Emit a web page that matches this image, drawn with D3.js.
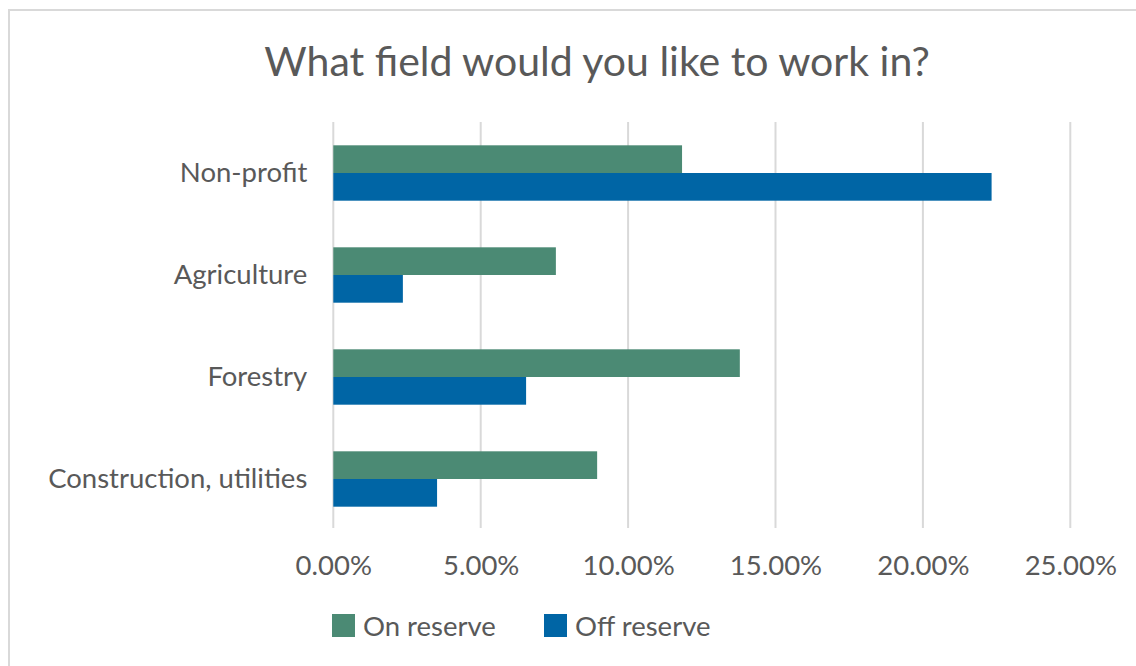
<!DOCTYPE html>
<html>
<head>
<meta charset="utf-8">
<script src="https://cdn.jsdelivr.net/npm/d3@7"></script>
<style>
  html, body { margin: 0; padding: 0; background: #fff; }
  svg { display: block; font-family: Lato, "Noto Sans", sans-serif; }
</style>
</head>
<body>
<div id="chart"></div>
<script>
const width = 1136;
const height = 666;

// data (shares of respondents)
const categories = ["Non-profit", "Agriculture", "Forestry", "Construction, utilities"];
const seriesNames = ["On reserve", "Off reserve"];
const onReserve = [0.1183, 0.0755, 0.1379, 0.0895];
const offReserve = [0.2233, 0.0236, 0.0654, 0.0352];
const xTicks = [0, 0.05, 0.10, 0.15, 0.20, 0.25];

const colors = ["#4b8a74", "#0065a5"];
const textColor = "#595959";
const labelSize = "27.5px";

const plotLeft = 333.3;
const plotRight = 1070.3;
const plotTop = 122;
const plotBottom = 530;

const svg = d3.select("#chart")
    .append("svg")
    .attr("width", width)
    .attr("height", height)
    .attr("viewBox", [0, 0, width, height]);

// chart area border (runs off the right and bottom edges)
svg.append("rect")
    .attr("x", 9)
    .attr("y", 10)
    .attr("width", 1300)
    .attr("height", 800)
    .attr("fill", "#fff")
    .attr("stroke", "#d9d9d9")
    .attr("stroke-width", 2);

const x = d3.scaleLinear([0, 0.25], [plotLeft, plotRight]);
const y = d3.scaleBand(categories, [plotTop, plotBottom])
    .paddingInner(0.457)
    .paddingOuter(0.2285);
const ySub = d3.scaleBand(seriesNames, [0, y.bandwidth()]);

// vertical gridlines
svg.append("g")
    .selectAll("line")
    .data(xTicks)
    .join("line")
    .attr("x1", d => x(d))
    .attr("x2", d => x(d))
    .attr("y1", plotTop)
    .attr("y2", plotBottom - 2)
    .attr("stroke", "#d9d9d9")
    .attr("stroke-width", 2);

// bars
const rows = categories.map((c, i) => ({ name: c, values: [onReserve[i], offReserve[i]] }));

const groups = svg.append("g")
    .selectAll("g")
    .data(rows)
    .join("g")
    .attr("transform", d => `translate(0,${y(d.name)})`);

groups.selectAll("rect")
    .data(d => d.values.map((v, j) => ({ series: seriesNames[j], value: v, j })))
    .join("rect")
    .attr("x", x(0))
    .attr("y", d => ySub(d.series))
    .attr("width", d => x(d.value) - x(0))
    .attr("height", ySub.bandwidth())
    .attr("fill", d => colors[d.j]);

// x axis labels
const xAxis = svg.append("g")
    .attr("transform", `translate(0,${plotBottom})`)
    .call(d3.axisBottom(x).tickValues(xTicks).tickFormat(d3.format(".2%")).tickSize(0).tickPadding(25));
xAxis.select(".domain").remove();
xAxis.selectAll("text")
    .attr("fill", textColor)
    .style("font-size", labelSize)
    .style("font-family", "Lato, 'Noto Sans', sans-serif");

// y axis labels
const yAxis = svg.append("g")
    .attr("transform", `translate(${plotLeft},0)`)
    .call(d3.axisLeft(y).tickSize(0).tickPadding(26));
yAxis.select(".domain").remove();
yAxis.selectAll("text")
    .attr("fill", textColor)
    .style("font-size", labelSize)
    .style("font-family", "Lato, 'Noto Sans', sans-serif");

// title
svg.append("text")
    .attr("x", 597)
    .attr("y", 76)
    .attr("text-anchor", "middle")
    .attr("fill", textColor)
    .style("font-size", "41px")
    .text("What field would you like to work in?");

// legend
const legendX = [332, 544];
const legend = svg.append("g")
    .selectAll("g")
    .data(seriesNames)
    .join("g")
    .attr("transform", (d, i) => `translate(${legendX[i]},614)`);

legend.append("rect")
    .attr("width", 23)
    .attr("height", 23)
    .attr("fill", (d, i) => colors[i]);

legend.append("text")
    .attr("x", 31)
    .attr("y", 22)
    .attr("fill", textColor)
    .style("font-size", labelSize)
    .text(d => d);
</script>
</body>
</html>
